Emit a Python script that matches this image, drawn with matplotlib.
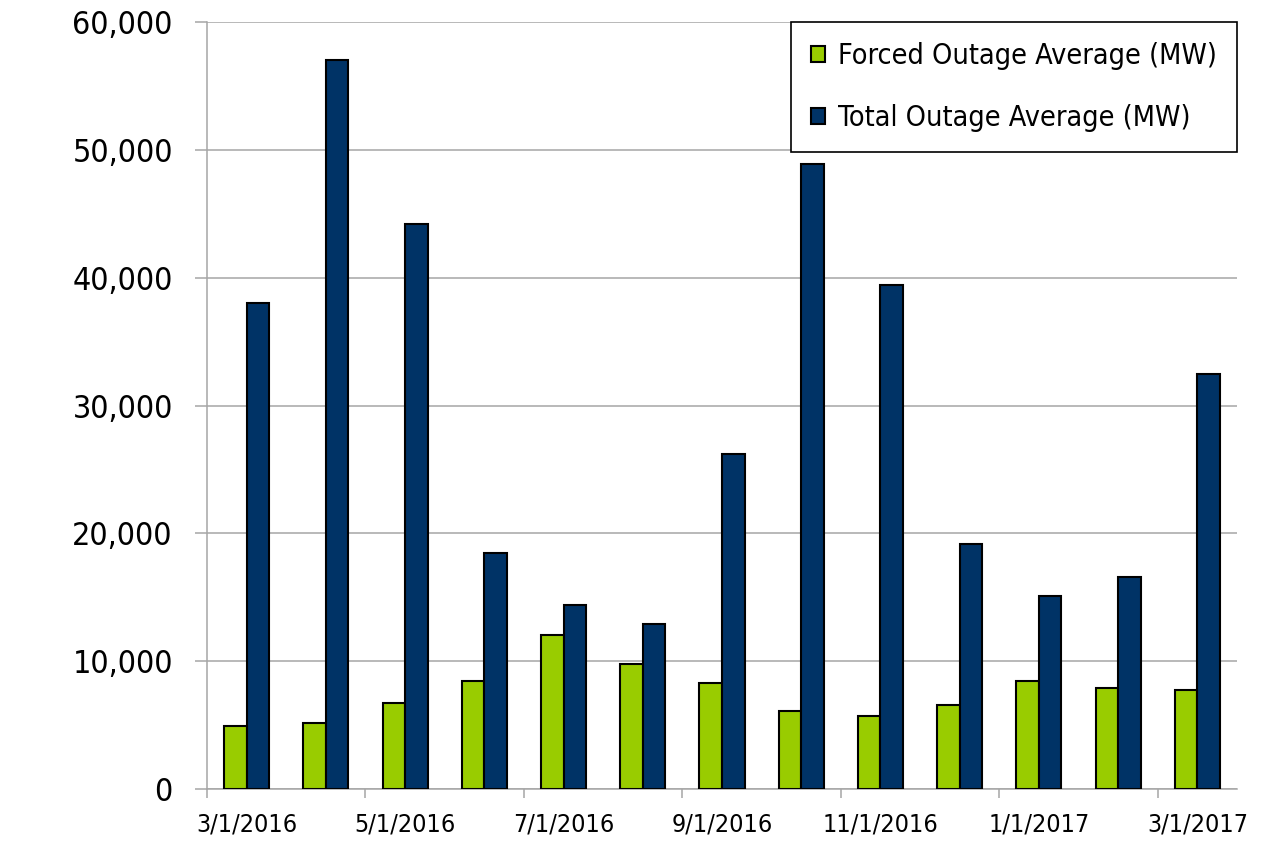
import matplotlib
matplotlib.use("Agg")
import matplotlib.pyplot as plt
import numpy as np
from matplotlib.ticker import FuncFormatter, FixedLocator, NullFormatter

plt.rcParams['font.family'] = ['DejaVu Sans']
plt.rcParams['font.stretch'] = 'condensed'

months = ["3/1/2016", "4/1/2016", "5/1/2016", "6/1/2016", "7/1/2016", "8/1/2016",
          "9/1/2016", "10/1/2016", "11/1/2016", "12/1/2016", "1/1/2017", "2/1/2017", "3/1/2017"]
forced = [4950, 5200, 6700, 8450, 12050, 9750, 8300, 6100, 5700, 6600, 8450, 7900, 7750]
total = [38000, 57000, 44200, 18500, 14400, 12900, 26200, 48900, 39400, 19200, 15100, 16600, 32500]
series_names = ["Forced Outage Average (MW)", "Total Outage Average (MW)"]
colors = ["#99CC00", "#003366"]

fig = plt.figure(figsize=(12.66, 8.44), dpi=100)
ax = fig.add_axes([207/1266, 1 - 789/844, (1237-207)/1266, (789-22)/844])

n = len(months)
x = np.arange(n)
w = 0.284
ax.bar(x - w/2, forced, width=w, color=colors[0], edgecolor="black", linewidth=1.5,
       label=series_names[0], zorder=3)
ax.bar(x + w/2, total, width=w, color=colors[1], edgecolor="black", linewidth=1.5,
       label=series_names[1], zorder=3)

ax.set_xlim(-0.5, n - 0.5)
ax.set_ylim(0, 60000)
ax.set_yticks(np.arange(0, 60001, 10000))
ax.yaxis.set_major_formatter(FuncFormatter(lambda v, p: f"{int(v):,}"))
ax.grid(axis="y", color="#a6a6a6", linewidth=1.1, zorder=0)

# x ticks: marks at category boundaries, labels at every other category center
ax.xaxis.set_major_locator(FixedLocator(np.arange(-0.5, n, 2)))
ax.xaxis.set_major_formatter(NullFormatter())
ax.xaxis.set_minor_locator(FixedLocator(x[::2]))
ax.set_xticklabels([months[i] for i in range(0, n, 2)], minor=True)
ax.tick_params(axis="x", which="major", length=6.5, width=1.1, color="#a6a6a6", direction="out")
ax.tick_params(axis="x", which="minor", length=0, pad=17, labelsize=18)
ax.tick_params(axis="y", length=8.6, width=1.1, color="#a6a6a6", pad=16, labelsize=23)

for s in ["top", "right"]:
    ax.spines[s].set_visible(False)
for s in ["left", "bottom"]:
    ax.spines[s].set_color("#a6a6a6")
    ax.spines[s].set_linewidth(1.1)

leg = ax.legend(loc="upper right", bbox_to_anchor=(1.0, 1.0), borderaxespad=0, fontsize=20.6,
                frameon=True, fancybox=False, edgecolor="black", framealpha=1,
                handlelength=0.5, handleheight=0.5, handletextpad=0.45, labelspacing=1.2,
                borderpad=0.7)
leg.get_frame().set_linewidth(1.2)

fig.savefig("out.png", dpi=100)
